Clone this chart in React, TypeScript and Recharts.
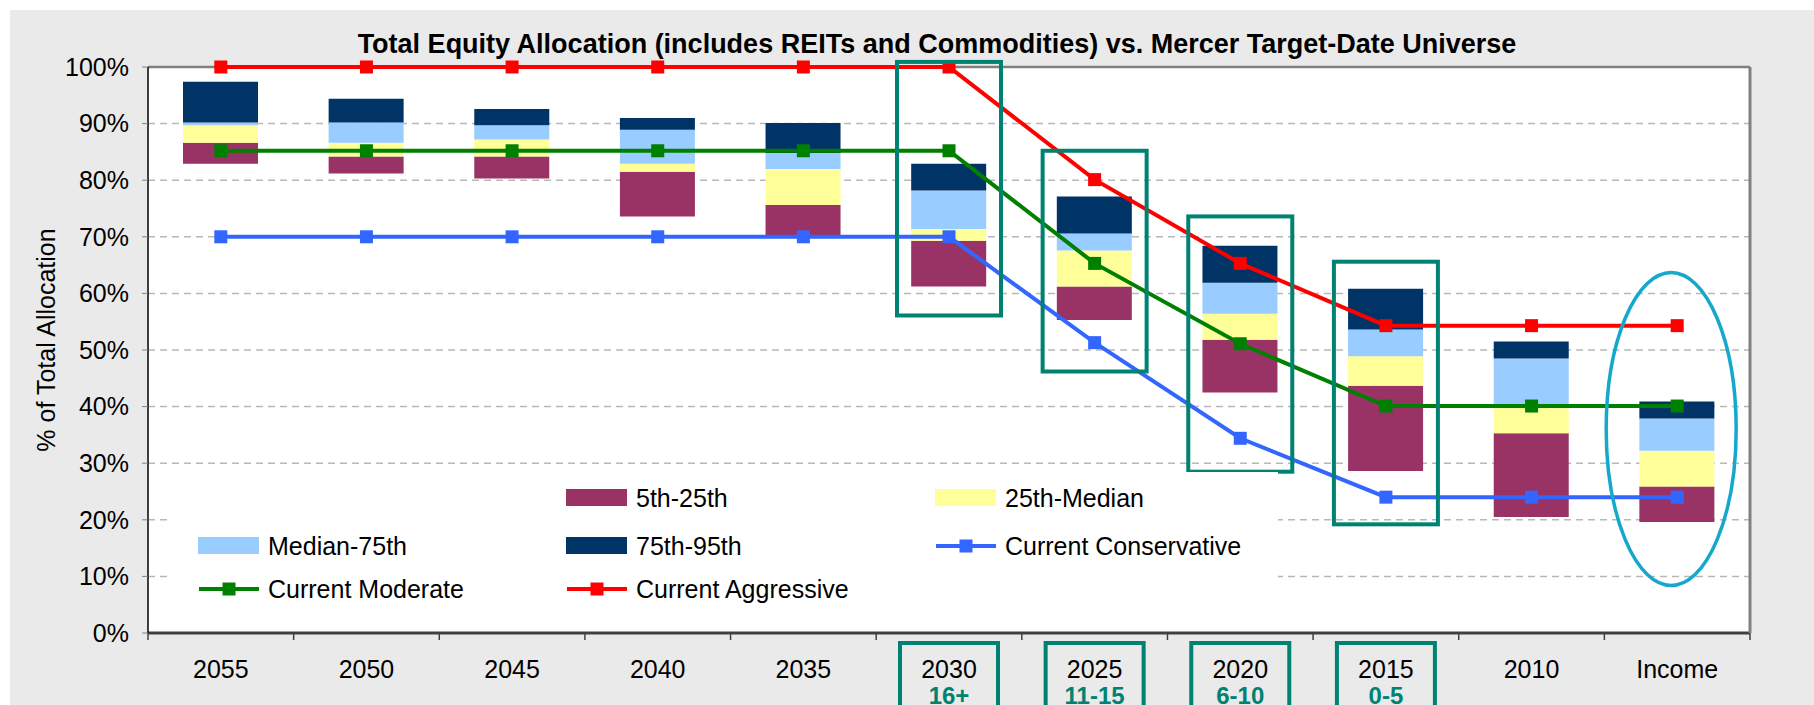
import {
  ComposedChart,
  Bar,
  Line,
  XAxis,
  YAxis,
  CartesianGrid,
  ReferenceArea,
  ReferenceLine,
  Label,
} from "recharts";

const categories = ["2055", "2050", "2045", "2040", "2035", "2030", "2025", "2020", "2015", "2010", "Income"];
const horizonLabels = ["", "", "", "", "", "16+", "11-15", "6-10", "0-5", "", ""];

// universe percentiles (% equity)
const p5 = [82.9, 81.2, 80.3, 73.6, 70.2, 61.2, 55.3, 42.5, 28.6, 20.5, 19.6];
const p25 = [86.6, 84.2, 84.2, 81.5, 75.6, 69.3, 61.2, 51.8, 43.7, 35.3, 25.9];
const p50 = [89.7, 86.6, 87.2, 82.9, 82.0, 71.4, 67.6, 56.4, 48.9, 40.4, 32.2];
const p75 = [90.2, 90.2, 89.7, 88.9, 84.8, 78.2, 70.6, 61.9, 53.6, 48.5, 37.9];
const p95 = [97.4, 94.4, 92.6, 91.0, 90.1, 82.9, 77.1, 68.4, 60.8, 51.5, 40.9];

const conservative = [70, 70, 70, 70, 70, 70, 51.3, 34.4, 24.0, 24.0, 24.0];
const moderate = [85.2, 85.2, 85.2, 85.2, 85.2, 85.2, 65.3, 51.1, 40.1, 40.1, 40.1];
const aggressive = [100, 100, 100, 100, 100, 100, 80.1, 65.3, 54.3, 54.3, 54.3];

const yTicks = [0, 10, 20, 30, 40, 50, 60, 70, 80, 90, 100];

// highlighted vintages (box top / bottom in %)
const highlightCats = ["2030", "2025", "2020", "2015"];
const highlightTop = [100.9, 85.2, 73.6, 65.6];
const highlightBottom = [56.1, 46.2, 28.5, 19.2];

const data = categories.map((cat, i) => ({
  cat,
  base: p5[i],
  b1: p25[i] - p5[i],
  b2: p50[i] - p25[i],
  b3: p75[i] - p50[i],
  b4: p95[i] - p75[i],
  cons: conservative[i],
  mod: moderate[i],
  agg: aggressive[i],
}));

const bars = [
  { key: "b1", name: "5th-25th", color: "#993366" },
  { key: "b2", name: "25th-Median", color: "#FFFF99" },
  { key: "b3", name: "Median-75th", color: "#99CCFF" },
  { key: "b4", name: "75th-95th", color: "#003366" },
];
const lines = [
  { key: "cons", name: "Current Conservative", color: "#3366FF" },
  { key: "mod", name: "Current Moderate", color: "#008000" },
  { key: "agg", name: "Current Aggressive", color: "#FF0000" },
];

const TEAL = "#008272";
const FONT = "'Liberation Sans', Arial, sans-serif";

const squareDot = (color: string) => (p: any) =>
  <rect key={`d-${p.index}`} x={p.cx - 6.5} y={p.cy - 6.5} width={13} height={13} fill={color} />;

function XTick(props: any) {
  const { x, y, payload, index, width, visibleTicksCount } = props;
  const band = width && visibleTicksCount ? width / visibleTicksCount : 145.6;
  const sub = horizonLabels[index];
  return (
    <g>
      <line x1={x - band / 2} x2={x - band / 2} y1={y} y2={y + 7} stroke="#404040" strokeWidth={1.5} />
      {index === categories.length - 1 && (
        <line x1={x + band / 2} x2={x + band / 2} y1={y} y2={y + 7} stroke="#404040" strokeWidth={1.5} />
      )}
      {sub && <rect x={x - 49} y={y + 10} width={98} height={90} fill="none" stroke={TEAL} strokeWidth={4} />}
      <text x={x} y={y + 36} textAnchor="middle" dominantBaseline="central" fontSize={25} fill="#000">
        {payload.value}
      </text>
      {sub && (
        <text x={x} y={y + 62} textAnchor="middle" dominantBaseline="central" fontSize={24} fontWeight="bold" fill={TEAL}>
          {sub}
        </text>
      )}
    </g>
  );
}

const legendItems: any[] = [null, bars[0], bars[1], bars[2], bars[3], lines[0], lines[1], lines[2]];
const legendCols = [28, 396, 765];
const legendRows = [26, 74, 117];

export default function App() {
  return (
    <div style={{ position: "absolute", left: 0, top: 0, width: 1814, height: 705, background: "#fff", fontFamily: FONT, overflow: "hidden" }}>
      <div style={{ position: "absolute", left: 10, top: 10, width: 1804, height: 695, background: "#EAEAEA" }} />
      <div style={{ position: "absolute", left: 137, top: 28, width: 1600, textAlign: "center", fontSize: 27, fontWeight: "bold", lineHeight: "32px", color: "#000" }}>
        Total Equity Allocation (includes REITs and Commodities) vs. Mercer Target-Date Universe
      </div>
      <div style={{ position: "absolute", left: 0, top: 0 }}>
        <ComposedChart width={1814} height={705} data={data} margin={{ top: 67, right: 63, left: 0, bottom: 0 }}>
          <CartesianGrid vertical={false} stroke="#B8B8B8" strokeWidth={1.5} strokeDasharray="7 5" fill="#FFFFFF" />
          <XAxis
            dataKey="cat"
            height={72}
            tickLine={false}
            tickSize={0}
            tickMargin={0}
            axisLine={{ stroke: "#404040", strokeWidth: 3 }}
            tick={<XTick />}
            interval={0}
          />
          <YAxis
            width={148}
            domain={[0, 100]}
            ticks={yTicks}
            tickFormatter={(v) => `${v}%`}
            tick={{ fontSize: 25, fill: "#000" }}
            tickSize={6}
            tickMargin={13}
            tickLine={{ stroke: "#808080" }}
            axisLine={{ stroke: "#000", strokeWidth: 1.5 }}
          >
            <Label
              content={(p: any) => {
                const vb = p.viewBox;
                const cx = vb.x + 46;
                const cy = vb.y + vb.height / 2 - 10;
                return (
                  <text x={cx} y={cy} transform={`rotate(-90, ${cx}, ${cy})`} textAnchor="middle" dominantBaseline="central" fontSize={25} fill="#000">
                    % of Total Allocation
                  </text>
                );
              }}
            />
          </YAxis>
          <YAxis yAxisId="right" orientation="right" width={1} domain={[0, 100]} tick={false} tickLine={false} axisLine={{ stroke: "#808080", strokeWidth: 3 }} />
          <ReferenceLine y={100} stroke="#808080" strokeWidth={2.5} />
          <Bar dataKey="base" stackId="s" fill="transparent" barSize={75} isAnimationActive={false} />
          {bars.map((b) => (
            <Bar key={b.key} dataKey={b.key} name={b.name} stackId="s" fill={b.color} barSize={75} isAnimationActive={false} />
          ))}
          {lines.map((l) => (
            <Line
              key={l.key}
              type="linear"
              dataKey={l.key}
              name={l.name}
              stroke={l.color}
              strokeWidth={4}
              dot={squareDot(l.color)}
              activeDot={false}
              isAnimationActive={false}
            />
          ))}
          {highlightCats.map((c, i) => (
            <ReferenceArea
              key={c}
              x1={c}
              x2={c}
              y1={highlightBottom[i]}
              y2={highlightTop[i]}
              ifOverflow="visible"
              zIndex={1500}
              shape={(p: any) => (
                <rect x={p.x + p.width / 2 - 52} y={p.y} width={104} height={p.height} fill="none" stroke={TEAL} strokeWidth={4} />
              )}
            />
          ))}
          <ReferenceArea
            x1="Income"
            x2="Income"
            y1={8.4}
            y2={63.7}
            ifOverflow="visible"
            zIndex={1500}
            shape={(p: any) => (
              <ellipse cx={p.x + p.width / 2 - 6} cy={p.y + p.height / 2} rx={65} ry={p.height / 2} fill="none" stroke="#14A8CC" strokeWidth={3.5} />
            )}
          />
        </ComposedChart>
      </div>
      <div style={{ position: "absolute", left: 170, top: 472, width: 1108, height: 158, background: "#fff" }}>
        {legendItems.map((it, i) => {
          if (!it) return null;
          const col = legendCols[i % 3];
          const row = legendRows[Math.floor(i / 3)];
          const isLine = lines.includes(it);
          return (
            <div key={it.name} style={{ position: "absolute", left: col, top: row - 16, height: 32, display: "flex", alignItems: "center" }}>
              <svg width={62} height={20} style={{ marginRight: 8 }}>
                {isLine ? (
                  <g>
                    <line x1={1} x2={61} y1={10} y2={10} stroke={it.color} strokeWidth={4} />
                    <rect x={24.5} y={3.5} width={13} height={13} fill={it.color} />
                  </g>
                ) : (
                  <rect x={0} y={1} width={61} height={17} fill={it.color} />
                )}
              </svg>
              <span style={{ fontSize: 25, color: "#000", whiteSpace: "nowrap" }}>{it.name}</span>
            </div>
          );
        })}
      </div>
    </div>
  );
}
